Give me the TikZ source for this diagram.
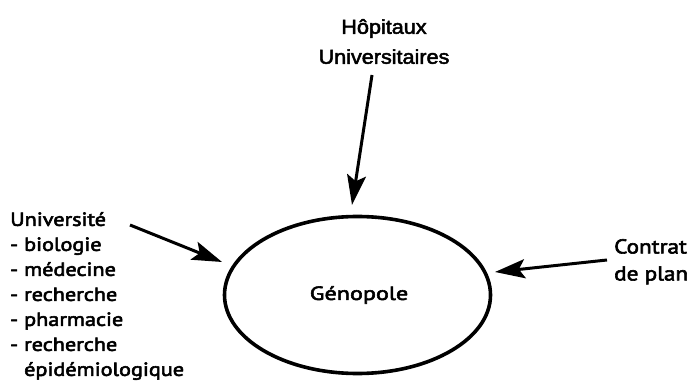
\documentclass[tikz,border=0pt]{standalone}
\usepackage{fontspec}
\setmainfont{PT Sans}
\newfontfamily\listf{PT Sans}[FakeBold=3,FakeStretch=1.17]
\newfontfamily\genf{PT Sans}[FakeBold=3,FakeStretch=1.27]
\newfontfamily\contf{PT Sans}[FakeBold=3,FakeStretch=1.16]
\newfontfamily\hopf{Liberation Sans}[FakeBold=2.5,FakeStretch=1.08]
\usetikzlibrary{arrows.meta,shapes.geometric}
\begin{document}
\begin{tikzpicture}[x=1pt,y=-1pt,
  arr/.style={line width=3pt,-{Stealth[length=30pt,width=19pt,inset=6pt]}},
  lbl/.style={inner sep=0pt}]
\useasboundingbox (0,0) rectangle (691,387);
\node[draw,line width=3.6pt,ellipse,minimum width=266pt,minimum height=157pt,inner sep=0pt] (g) at (357.5,295) {};
\node[lbl,font=\genf\fontsize{19}{25}\selectfont] (gt) at (359,295) {Génopole};
\node[lbl,font=\hopf\fontsize{20}{30}\selectfont,align=center,anchor=north] (h) at (384,19) {Hôpitaux\\Universitaires};
\node[lbl,font=\listf\fontsize{19}{25}\selectfont,align=left,anchor=north west] (u) at (10,212) {Université\\- biologie\\- médecine\\- recherche\\- pharmacie\\- recherche\\\phantom{- }épidémiologique};
\node[lbl,font=\contf\fontsize{20}{27}\selectfont,align=left,anchor=north west] (c) at (614,239) {Contrat\\de plan};
\coordinate (hA) at (372,75);
\coordinate (hB) at (352,205);
\coordinate (uA) at (130,225);
\coordinate (uB) at (222,262);
\coordinate (cA) at (607,260);
\coordinate (cB) at (495,272);
\draw[arr] (hA) -- (hB);
\draw[arr] (uA) -- (uB);
\draw[arr] (cA) -- (cB);
\end{tikzpicture}
\end{document}
